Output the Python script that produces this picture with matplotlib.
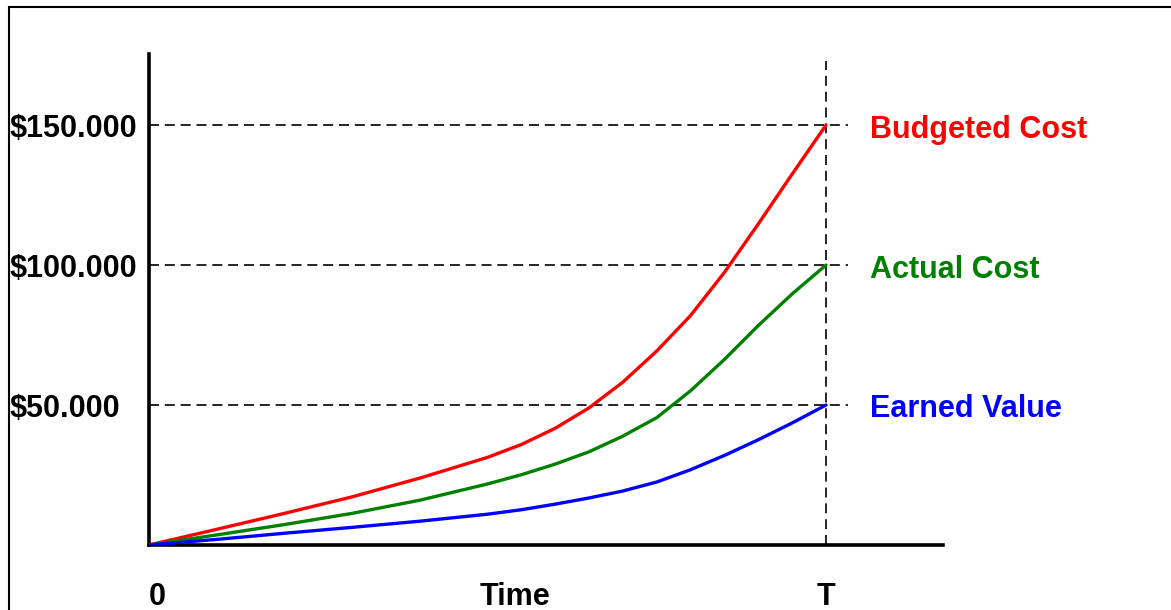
import matplotlib
matplotlib.use("Agg")
import matplotlib.pyplot as plt
from matplotlib.patches import Rectangle

# ---- data ----
time = [0, 1, 2, 3, 4, 5, 5.5, 6, 6.5, 7, 7.5, 8, 8.5, 9, 9.5, 10]
budgeted_cost = [0, 5600, 11300, 17200, 23900, 31300, 35900, 41700, 49000,
                 58200, 69300, 82000, 97400, 114700, 132500, 150000]
actual_cost = [0, 3600, 7300, 11300, 16000, 21800, 25100, 28900, 33300,
               38900, 45500, 55100, 66300, 78400, 89700, 100000]
earned_value = [0, 2000, 4200, 6300, 8500, 11000, 12600, 14600, 16800,
                19300, 22500, 26900, 32000, 37600, 43600, 50000]

series_names = ["Budgeted Cost", "Actual Cost", "Earned Value"]
series_colors = ["#FF0000", "#008000", "#0000FF"]

ytick_values = [50000, 100000, 150000]
ytick_labels = ["$50.000", "$100.000", "$150.000"]
xtick_values = [0, 5.4, 10]
xtick_labels = ["0", "Time", "T"]
T_end = 10

plt.rcParams['font.family'] = ['Liberation Sans', 'DejaVu Sans']

fig = plt.figure(figsize=(11.71, 6.10), dpi=100)
W, H = 1171, 610
ax = fig.add_axes([149 / W, 65 / H, (943 - 149) / W, (545 - 54) / H])
ax.set_xlim(0, 11.728)
ax.set_ylim(0, 175400)

# figure frame
fig.patches.append(Rectangle((9 / W, -0.2), 2.0, (610 - 6.5) / H + 0.2,
                             transform=fig.transFigure, fill=False,
                             edgecolor='black', linewidth=1.5, clip_on=False))

# dashed reference lines
dash = (0, (6, 3.5))
for v in ytick_values:
    ax.plot([0, 10.33], [v, v], color='black', lw=1.2, linestyle=dash, zorder=1)
ax.plot([T_end, T_end], [0, 173000], color='black', lw=1.2, linestyle=dash,
        zorder=1, clip_on=False)

# curves
for vals, c in zip([budgeted_cost, actual_cost, earned_value], series_colors):
    ax.plot(time, vals, color=c, lw=2.4, zorder=3, solid_capstyle='round',
            solid_joinstyle='round')

# right-hand labels
for name, vals, c in zip(series_names,
                         [budgeted_cost, actual_cost, earned_value],
                         series_colors):
    ax.annotate(name, xy=(T_end, vals[-1]), xytext=(31.7, -3.2),
                textcoords='offset points', color=c, fontsize=22,
                fontweight='bold', va='center', ha='left',
                annotation_clip=False)

# axes styling
for s in ['top', 'right']:
    ax.spines[s].set_visible(False)
for s in ['left', 'bottom']:
    ax.spines[s].set_linewidth(2.6)
    ax.spines[s].set_color('black')

ax.set_yticks(ytick_values)
ax.set_yticklabels(ytick_labels, fontsize=22, fontweight='bold')
ax.tick_params(axis='y', length=0, pad=100.1)
for lab in ax.get_yticklabels():
    lab.set_horizontalalignment('left')

ax.set_xticks(xtick_values)
ax.set_xticklabels(xtick_labels, fontsize=22, fontweight='bold')
ax.tick_params(axis='x', length=0, pad=26.5)
ax.get_xticklabels()[0].set_horizontalalignment('left')

fig.savefig("out.png", dpi=100)
